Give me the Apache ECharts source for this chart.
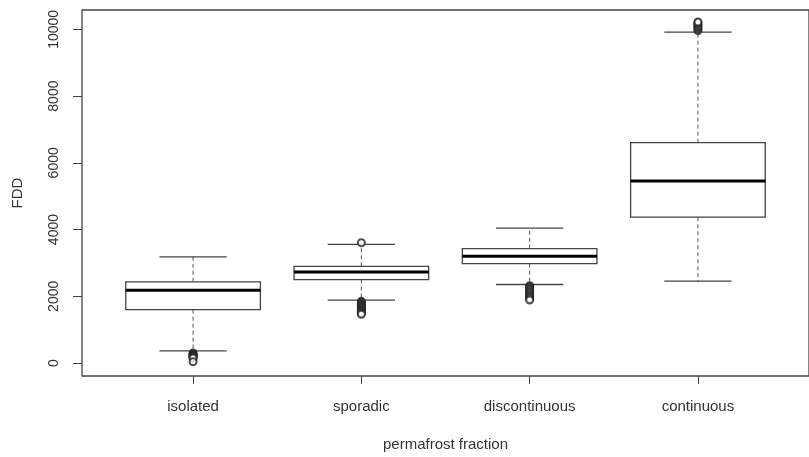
<!DOCTYPE html>
<html>
<head>
<meta charset="utf-8">
<script src="https://cdn.jsdelivr.net/npm/echarts@6.0.0/dist/echarts.min.js"></script>
<style>
  html, body { margin: 0; padding: 0; background: #fff; }
  #chart { width: 809px; height: 457px; }
</style>
</head>
<body>
<div id="chart"></div>
<script>
const categories = ['isolated', 'sporadic', 'discontinuous', 'continuous']
const lowerWhisker = [367, 1886, 2354, 2453]
const lowerQuartile = [1600, 2503, 2980, 4371]
const medians = [2185, 2732, 3198, 5453]
const upperQuartile = [2435, 2900, 3427, 6606]
const upperWhisker = [3180, 3555, 4044, 9914]

const outliersIsolated = [300, 270, 250, 230, 210, 190, 170, 150, 40]
const outliersSporadic = [3606, 1850, 1820, 1790, 1760, 1730, 1700, 1670, 1640, 1610, 1580, 1550, 1520, 1490, 1460]
const outliersDiscontinuous = [2320, 2290, 2250, 2210, 2170, 2130, 2090, 2050, 2010, 1970, 1930, 1890]
const outliersContinuous = [9960, 10000, 10040, 10080, 10120, 10160, 10200, 10220]

const yTicks = [0, 2000, 4000, 6000, 8000, 10000]
const xTicks = [1, 2, 3, 4]

const textColor = '#333'
const lineColor = '#444'

const boxData = categories.map((c, i) => [
  i + 1, lowerWhisker[i], lowerQuartile[i], medians[i], upperQuartile[i], upperWhisker[i],
])

const outlierData = []
;[outliersIsolated, outliersSporadic, outliersDiscontinuous, outliersContinuous].forEach((list, i) => {
  list.forEach((v) => outlierData.push([i + 1, v]))
})

function renderBox(params, api) {
  const x = api.value(0)
  const half = 0.4
  const capHalf = 0.2
  const p = (dx, v) => api.coord([x + dx, v])
  const lw = api.value(1)
  const lq = api.value(2)
  const md = api.value(3)
  const uq = api.value(4)
  const uw = api.value(5)

  const topLeft = p(-half, uq)
  const bottomRight = p(half, lq)
  const solid = { stroke: lineColor, lineWidth: 1.3, fill: null }
  const dashed = { stroke: '#555', lineWidth: 1, lineDash: [4, 3] }

  const line = (a, b, style) => ({
    type: 'line',
    shape: { x1: a[0], y1: a[1], x2: b[0], y2: b[1] },
    style,
  })

  return {
    type: 'group',
    children: [
      line(p(0, uq), p(0, uw), dashed),
      line(p(0, lq), p(0, lw), dashed),
      line(p(-capHalf, uw), p(capHalf, uw), solid),
      line(p(-capHalf, lw), p(capHalf, lw), solid),
      {
        type: 'rect',
        shape: {
          x: topLeft[0],
          y: topLeft[1],
          width: bottomRight[0] - topLeft[0],
          height: bottomRight[1] - topLeft[1],
        },
        style: { stroke: lineColor, lineWidth: 1.3, fill: '#fff' },
      },
      line(p(-half, md), p(half, md), { stroke: '#000', lineWidth: 3 }),
    ],
  }
}

const chart = echarts.init(document.getElementById('chart'))

chart.setOption({
  animation: false,
  textStyle: { fontFamily: '"Liberation Sans", Arial, sans-serif' },
  grid: {
    left: 82,
    right: -11,
    top: 10,
    bottom: 79,
    show: true,
    borderColor: lineColor,
    borderWidth: 1.3,
  },
  xAxis: {
    type: 'value',
    min: 0.34,
    max: 4.66,
    name: 'permafrost fraction',
    nameLocation: 'middle',
    nameGap: 61,
    nameTextStyle: { color: textColor, fontSize: 15 },
    splitLine: { show: false },
    axisLine: { show: false, onZero: false },
    axisTick: {
      show: true,
      length: 8,
      customValues: xTicks,
      lineStyle: { color: lineColor },
    },
    axisLabel: {
      customValues: xTicks,
      formatter: (v) => categories[v - 1],
      color: textColor,
      fontSize: 15,
      margin: 23,
    },
  },
  yAxis: {
    type: 'value',
    min: -388,
    max: 10580,
    name: 'FDD',
    nameLocation: 'middle',
    nameRotate: 90,
    nameGap: 57,
    nameTextStyle: { color: textColor, fontSize: 15 },
    splitLine: { show: false },
    axisLine: { show: false, onZero: false },
    axisTick: {
      show: true,
      length: 9,
      customValues: yTicks,
      lineStyle: { color: lineColor },
    },
    axisLabel: {
      customValues: yTicks,
      formatter: (v) => String(v),
      rotate: 90,
      color: textColor,
      fontSize: 14,
      margin: 21,
    },
  },
  series: [
    {
      type: 'custom',
      renderItem: renderBox,
      encode: { x: 0, y: [1, 2, 3, 4, 5] },
      data: boxData,
      z: 2,
    },
    {
      type: 'scatter',
      symbol: 'emptyCircle',
      symbolSize: 7,
      itemStyle: { color: '#222', borderColor: '#222', borderWidth: 1.2 },
      data: outlierData,
      z: 3,
    },
  ],
})
</script>
</body>
</html>
